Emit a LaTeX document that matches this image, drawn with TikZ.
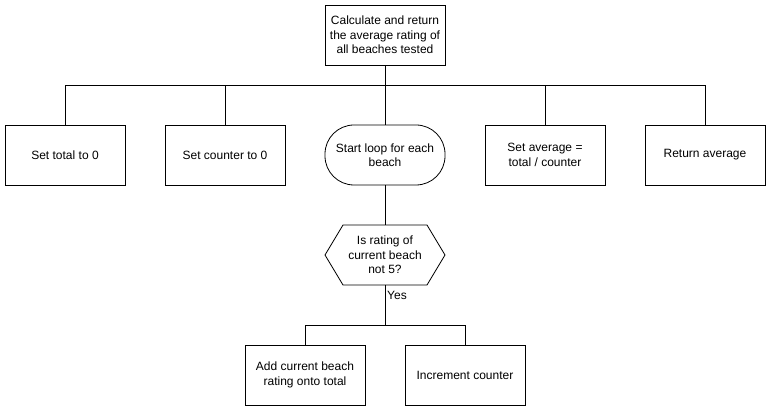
\documentclass[tikz,border=0pt]{standalone}
\usepackage{fontspec}
\setmainfont{Liberation Sans}
\usetikzlibrary{shapes.misc,shapes.geometric}
\begin{document}
\begin{tikzpicture}[x=1pt,y=-1pt,
  every node/.style={font=\fontsize{12}{14.5}\selectfont, align=center},
  procbox/.style={draw, line width=0.8pt, minimum width=120pt, minimum height=60pt, inner sep=2pt},
  loopbox/.style={procbox, rounded corners=29pt},
  link/.style={draw, line width=0.8pt}]
\useasboundingbox (0,0) rectangle (771,411);
\fill[white] (0,0) rectangle (771,411);
\node[procbox] (top) at (385,35) {Calculate and return\\the average rating of\\all beaches tested};
\node[procbox] (b1) at (65,155) {Set total to 0};
\node[procbox] (b2) at (225,155) {Set counter to 0};
\node[loopbox] (b3) at (385,155) {Start loop for each\\beach};
\node[procbox] (b4) at (545,155) {Set average =\\total / counter};
\node[procbox] (b5) at (705,155) {Return average};
\draw[line width=0.8pt] (343,225) -- (427,225) -- (445,255) -- (427,285) -- (343,285) -- (325,255) -- cycle;
\node (dec) at (385,255) {Is rating of\\current beach\\not 5?};
\coordinate (dectop) at (385,225);
\coordinate (decbot) at (385,285);
\node[procbox] (c1) at (305,375) {Add current beach\\rating onto total};
\node[procbox] (c2) at (465,375) {Increment counter};
\coordinate (j1) at (385,85);
\coordinate (j2) at (385,325);
\path[link] (top.south) -- (j1);
\path[link] (b1.north) |- (b5.north |- j1) -- (b5.north);
\path[link] (b2.north) -- (b2.north |- j1);
\path[link] (j1) -- (b3.north);
\path[link] (b4.north) -- (b4.north |- j1);
\path[link] (b3.south) -- (dectop);
\path[link] (decbot) -- (j2);
\path[link] (c1.north) |- (c2.north |- j2) -- (c2.north);
\node[anchor=west, inner sep=1pt] (yes) at (386,295) {Yes};
\end{tikzpicture}
\end{document}
